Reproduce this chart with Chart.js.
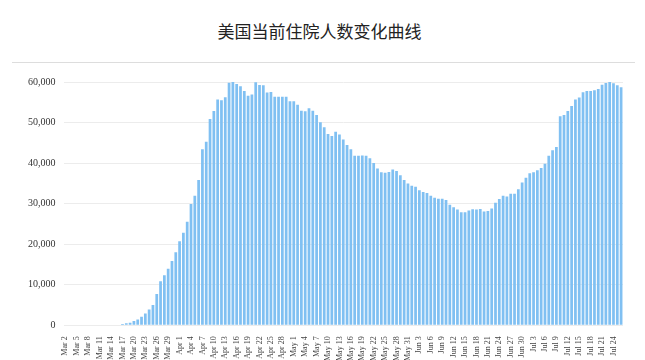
<!DOCTYPE html>
<html lang="zh-CN">
<head>
    <meta charset="UTF-8">
    <title>美国当前住院人数变化曲线</title>
    <script src="https://cdn.jsdelivr.net/npm/chart.js"></script>
    <style>
        body {
            margin: 0;
            background: #fff;
            width: 645px;
            height: 360px;
            overflow: hidden;
            position: relative;
        }

        .titulo {
            position: absolute;
            left: 12px;
            right: 10px;
            top: 0;
            height: 62px;
            border-bottom: 1px solid #ddd;
            text-align: center;
            font-family: "Noto Sans CJK SC", sans-serif;
            font-size: 17px;
            line-height: 62px;
            color: #222;
            padding-right: 8px;
        }

        .grafico-container {
            position: absolute;
            left: 0;
            top: 64px;
            width: 645px;
            height: 300px;
        }
    </style>
</head>
<body>
    <div class="titulo">美国当前住院人数变化曲线</div>

    <div class="grafico-container">
        <canvas id="grafico"></canvas>
    </div>

    <script>
        // datas: 2 de março a 26 de julho
        const months = ['Mar', 'Apr', 'May', 'Jun', 'Jul'];
        const monthDays = [30, 30, 31, 30, 26];
        const monthStart = [2, 1, 1, 1, 1];

        const labels = [];
        months.forEach((m, k) => {
            for (let d = 0; d < monthDays[k]; d++) labels.push(m + ' ' + (monthStart[k] + d));
        });

        // internados atualmente
        const marValues = [
            0, 0, 0, 0, 0, 0, 0, 0, 0, 0, 0, 0, 0, 0, 0,
            325, 490, 650, 1060, 1460, 2110, 2930, 3900, 5040, 7720,
            10890, 12360, 13980, 15850, 18050
        ];
        const aprValues = [
            20730, 22850, 25530, 29920, 31950, 35850, 43410, 45280, 50890, 52850,
            55690, 55530, 56260, 59840, 60000, 59510, 58940, 57800, 56590, 56910,
            59920, 59270, 59190, 57400, 57560, 56340, 56340, 56340, 56340, 55280
        ];
        const mayValues = [
            55280, 54390, 52930, 52770, 53500, 52930, 51870, 50080, 48860, 47150,
            46670, 47720, 47070, 45850, 44470, 43410, 41790, 41790, 41870, 41790,
            41220, 40000, 38700, 37720, 37640, 37800, 38450, 38050, 36990, 35850,
            34960
        ];
        const junValues = [
            34390, 34150, 33330, 32850, 32600, 31950, 31460, 31220, 31220, 30890,
            29760, 29110, 28540, 27890, 27890, 28290, 28620, 28540, 28700, 28050,
            28210, 28780, 30240, 31140, 31950, 31790, 32440, 32440, 33580, 35200
        ];
        const julValues = [
            36420, 37480, 37720, 38210, 38780, 39840, 41790, 43170, 43980, 51540,
            51870, 52850, 54060, 55690, 56180, 57480, 57800, 57800, 57970, 58290,
            59350, 59760, 60000, 59670, 59190, 58700
        ];

        const valores = [...marValues, ...aprValues, ...mayValues, ...junValues, ...julValues];

        const yMax = 60000;
        const yStep = 10000;

        const ctx = document.getElementById('grafico').getContext('2d');

        new Chart(ctx, {
            type: 'bar',
            data: {
                labels,
                datasets: [{
                    label: '当前住院人数',
                    data: valores,
                    backgroundColor: '#80c0f2',
                    borderWidth: 0,
                    barPercentage: 0.72,
                    categoryPercentage: 1
                }]
            },
            options: {
                responsive: true,
                maintainAspectRatio: false,
                animation: false,
                layout: { padding: { top: 18, right: 22, left: 20 } },
                plugins: {
                    legend: { display: false },
                    tooltip: { enabled: false }
                },
                scales: {
                    x: {
                        grid: { display: false },
                        border: { display: false },
                        ticks: {
                            autoSkip: false,
                            maxRotation: 90,
                            minRotation: 90,
                            padding: 3,
                            color: '#444',
                            font: { family: 'Liberation Serif', size: 8 },
                            callback: function (val, idx) {
                                return idx % 3 === 0 ? this.getLabelForValue(val) : '';
                            }
                        }
                    },
                    y: {
                        min: 0,
                        max: yMax,
                        border: { display: false },
                        grid: { color: '#ececec', drawTicks: false },
                        ticks: {
                            stepSize: yStep,
                            padding: 8,
                            color: '#333',
                            font: { family: 'Liberation Serif', size: 10 },
                            callback: v => v.toLocaleString('en-US')
                        }
                    }
                }
            }
        });
    </script>
</body>
</html>
